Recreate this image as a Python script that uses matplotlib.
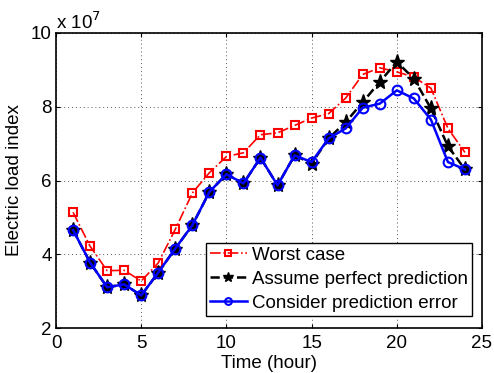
import numpy as np
import matplotlib.pyplot as plt

plt.rcParams['font.family'] = ['Liberation Sans', 'DejaVu Sans']
plt.rcParams['font.size'] = 13.5

hours = np.arange(1, 25)

# Load index in units of 1e7
worst_case = [5.14, 4.22, 3.56, 3.57, 3.28, 3.77, 4.68, 5.66, 6.21, 6.65, 6.75, 7.24,
              7.29, 7.49, 7.69, 7.81, 8.23, 8.87, 9.05, 8.94, 8.80, 8.50, 7.41, 6.76]
perfect_pred = [4.66, 3.78, 3.11, 3.19, 2.89, 3.51, 4.16, 4.79, 5.69, 6.17, 5.92, 6.62,
                5.87, 6.68, 6.46, 7.14, 7.58, 8.12, 8.67, 9.21, 8.76, 7.95, 6.93, 6.30]
pred_error = [4.66, 3.78, 3.11, 3.19, 2.89, 3.51, 4.16, 4.79, 5.69, 6.17, 5.92, 6.62,
              5.87, 6.68, 6.50, 7.14, 7.41, 7.97, 8.08, 8.44, 8.22, 7.65, 6.50, 6.30]

fig = plt.figure(figsize=(4.94, 3.73), dpi=100)
ax = fig.add_axes([0.1134, 0.1198, 0.8623, 0.7925])

scale = 1e7
ax.plot(hours, np.array(worst_case) * scale, color='red', linestyle='-.', linewidth=1.2,
        marker='s', markersize=6, markerfacecolor='none', markeredgewidth=1.5,
        label='Worst case')
ax.plot(hours, np.array(perfect_pred) * scale, color='black', linestyle='--', linewidth=1.8,
        marker='*', markersize=11, label='Assume perfect prediction')
ax.plot(hours, np.array(pred_error) * scale, color='blue', linestyle='-', linewidth=1.8,
        marker='o', markersize=7, markerfacecolor='none', markeredgewidth=1.5,
        label='Consider prediction error')

ax.set_xlim(0, 25)
ax.set_ylim(2e7, 10e7)
ax.set_xticks([0, 5, 10, 15, 20, 25])
ax.set_yticks(np.array([2, 4, 6, 8, 10]) * scale)
ax.set_yticklabels(['2', '4', '6', '8', '10'])
ax.tick_params(direction='in', length=3, top=True, right=True, pad=3)
ax.tick_params(axis='x', pad=5)
ax.grid(True, linestyle=(0, (1, 3)), color='#555555', linewidth=0.7)
for sp in ax.spines.values():
    sp.set_linewidth(1.2)

ax.text(0.0, 1.0, r'x 10$^{7}$', transform=ax.transAxes, ha='left', va='bottom')
ax.set_xlabel('Time (hour)', labelpad=2)
ax.set_ylabel('Electric load index', labelpad=6)

leg = ax.legend(loc='lower right', bbox_to_anchor=(0.9755, 0.0433), handlelength=2.0,
                handletextpad=0.25, borderpad=0.2, labelspacing=0.36, borderaxespad=0,
                fancybox=False, framealpha=1)
leg.get_frame().set_edgecolor('black')
leg.get_frame().set_linewidth(1.0)
for h in leg.legend_handles:
    h.set_markersize(h.get_markersize() * 0.7)

fig.savefig('out.png', dpi=100)
